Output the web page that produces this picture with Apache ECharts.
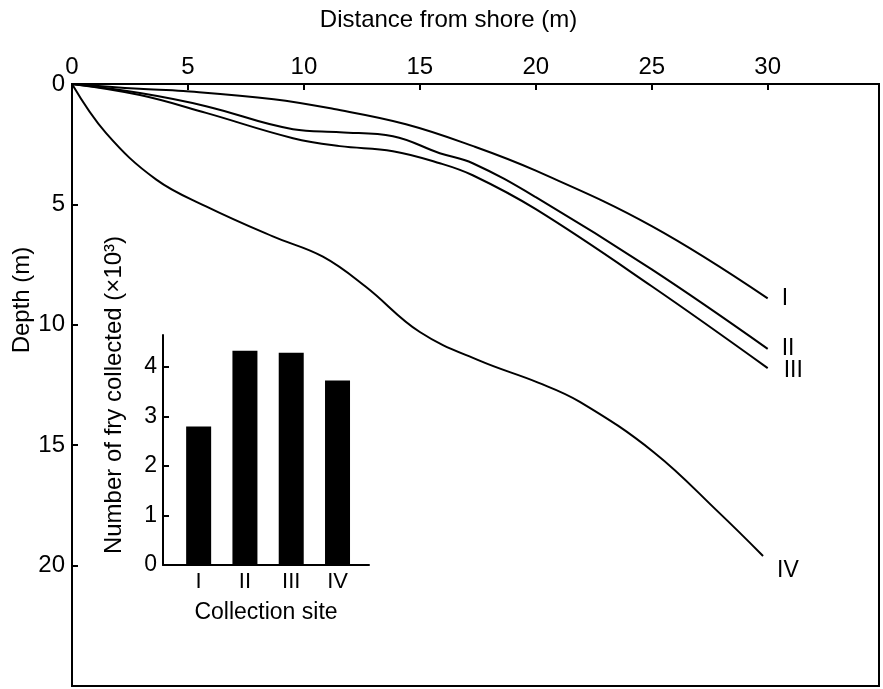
<!DOCTYPE html>
<html><head><meta charset="utf-8">
<script src="https://cdn.jsdelivr.net/npm/echarts@6/dist/echarts.min.js"></script>
<style>html,body{margin:0;padding:0;background:#fff}#c{width:883px;height:689px}</style>
</head><body><div id="c"></div>
<script>
// Depth profiles: distance from shore (m) and depth (m)
const distI   = [0, 2.9, 4.8, 8.7, 11.3, 14.4, 17.3, 20, 25, 30];
const depthI  = [0, 0.2, 0.29, 0.63, 1.04, 1.67, 2.58, 3.6, 5.9, 8.9];
const distII  = [0, 2.93, 5.78, 9.53, 11.55, 13.84, 15.86, 17.28, 20, 25, 30];
const depthII = [0, 0.375, 0.92, 1.875, 2.0, 2.17, 2.875, 3.29, 4.7, 7.7, 11.0];
const distIII  = [0, 2.93, 5.78, 9.53, 11.55, 13.84, 15.86, 17.28, 20, 25, 30];
const depthIII = [0, 0.46, 1.2, 2.25, 2.58, 2.79, 3.29, 3.79, 5.2, 8.4, 11.8];
const distIV  = [0, 1.47, 3.62, 5.78, 8.66, 10.82, 12.67, 15, 17.6, 20.1, 21.9, 25.1, 27.9, 29.8];
const depthIV = [0, 2.04, 3.96, 5.08, 6.33, 7.17, 8.42, 10.3, 11.5, 12.4, 13.2, 15.3, 17.8, 19.6];
const siteNames = ['I', 'II', 'III', 'IV'];
// Inset: number of fry collected (x10^3) per collection site
const siteIndex = [1, 2, 3, 4];
const fryCount  = [2.8, 4.33, 4.29, 3.73];
const xTicks = [0, 5, 10, 15, 20, 25, 30];
const yTicks = [0, 5, 10, 15, 20];
const insetTicks = [0, 1, 2, 3, 4];

const FONT = 'Liberation Sans';
const zip = (a, b) => a.map((v, i) => [v, b[i]]);
const profiles = [[distI, depthI], [distII, depthII], [distIII, depthIII], [distIV, depthIV]];
const endOffsets = [[6, 0], [6, 0], [8, 3], [6, 15]];

const chart = echarts.init(document.getElementById('c'));
chart.setOption({
  animation: false,
  textStyle: { fontFamily: FONT, color: '#000' },
  grid: [
    { left: 72, top: 84, right: 4, bottom: 3, show: true, borderColor: '#000', borderWidth: 2,
      backgroundColor: 'transparent', outerBoundsMode: 'none', containLabel: false },
    { left: 163, top: 335, width: 206, height: 230, outerBoundsMode: 'none', containLabel: false }
  ],
  xAxis: [
    { gridIndex: 0, type: 'value', position: 'top', min: 0, max: 34.8,
      name: 'Distance from shore (m)', nameLocation: 'middle', nameGap: 52,
      nameTextStyle: { fontSize: 24, color: '#000', fontFamily: FONT, padding: [0, 54, 0, 0] },
      axisLine: { show: true, lineStyle: { color: '#000', width: 2 } },
      axisTick: { show: true, inside: true, length: 6, lineStyle: { color: '#000', width: 2 }, customValues: xTicks },
      axisLabel: { fontSize: 24, color: '#000', margin: 5, fontFamily: FONT, customValues: xTicks },
      splitLine: { show: false } },
    { gridIndex: 1, type: 'value', min: 0.23, max: 4.68,
      name: 'Collection site', nameLocation: 'middle', nameGap: 36,
      nameTextStyle: { fontSize: 23, color: '#000', fontFamily: FONT },
      axisLine: { show: true, onZero: false, lineStyle: { color: '#000', width: 2 } },
      axisTick: { show: false },
      axisLabel: { fontSize: 22, color: '#000', margin: 6, fontFamily: FONT, customValues: siteIndex,
        formatter: v => siteNames[Math.round(v) - 1] || '' },
      splitLine: { show: false } }
  ],
  yAxis: [
    { gridIndex: 0, type: 'value', inverse: true, min: 0, max: 25,
      name: 'Depth (m)', nameLocation: 'middle', nameGap: 38, nameRotate: 90, nameMoveOverlap: false,
      nameTextStyle: { fontSize: 24, color: '#000', fontFamily: FONT, padding: [0, 0, 0, 170] },
      axisLine: { show: true, lineStyle: { color: '#000', width: 2 } },
      axisTick: { show: true, inside: true, length: 6, lineStyle: { color: '#000', width: 2 }, customValues: yTicks },
      axisLabel: { fontSize: 24, color: '#000', margin: 7, fontFamily: FONT, customValues: yTicks },
      splitLine: { show: false } },
    { gridIndex: 1, type: 'value', min: 0, max: 4.65,
      name: 'Number of fry collected (×10³)', nameLocation: 'middle', nameGap: 37, nameRotate: 90,
      nameTextStyle: { fontSize: 24, color: '#000', fontFamily: FONT, padding: [0, 0, 0, 110] },
      axisLine: { show: true, lineStyle: { color: '#000', width: 2 } },
      axisTick: { show: true, inside: true, length: 6, lineStyle: { color: '#000', width: 2 }, customValues: insetTicks },
      axisLabel: { fontSize: 23, color: '#000', margin: 6, fontFamily: FONT, customValues: insetTicks },
      splitLine: { show: false } }
  ],
  series: [
    ...profiles.map((p, i) => ({
      type: 'line', name: siteNames[i], xAxisIndex: 0, yAxisIndex: 0,
      data: zip(p[0], p[1]), smooth: 0.4, showSymbol: false, symbol: 'none',
      lineStyle: { color: '#000', width: 2 },
      endLabel: { show: true, formatter: siteNames[i], fontSize: 23, color: '#000', fontFamily: FONT,
        offset: endOffsets[i] }
    })),
    { type: 'bar', xAxisIndex: 1, yAxisIndex: 1, barWidth: 25,
      data: zip(siteIndex, fryCount), itemStyle: { color: '#000' } }
  ]
});
</script></body></html>
